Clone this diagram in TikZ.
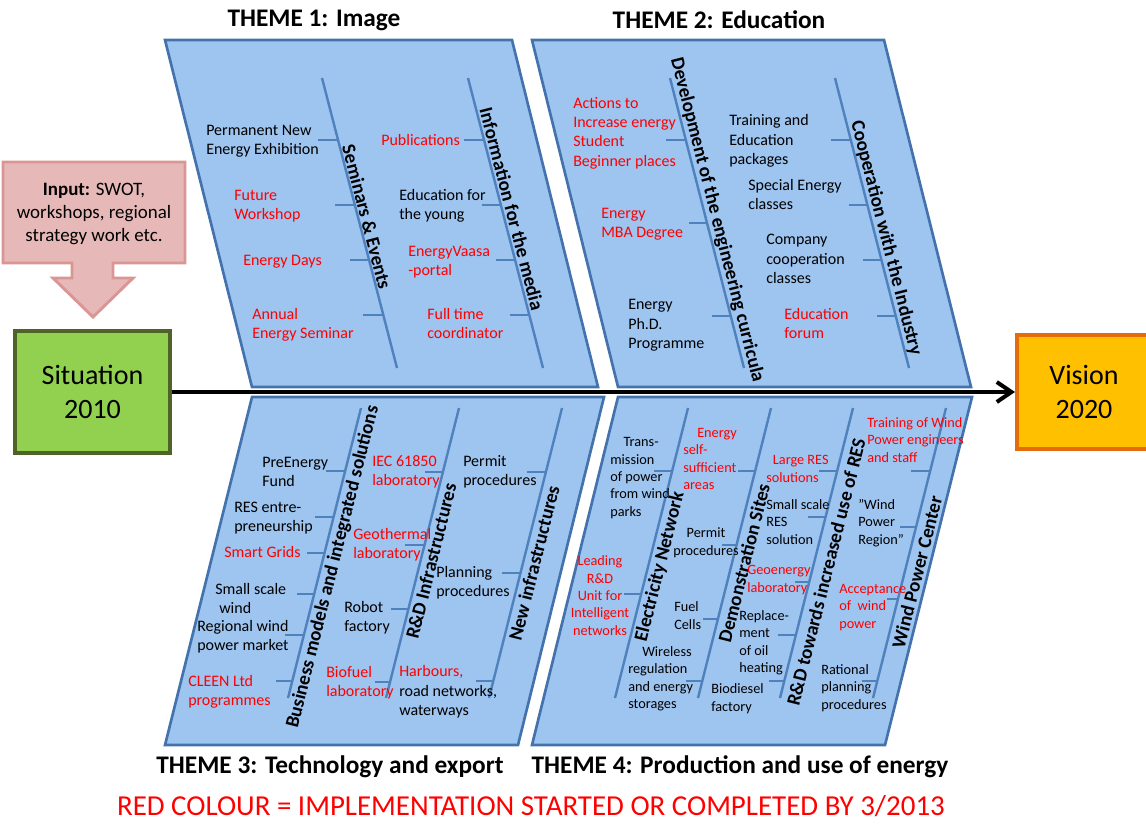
\documentclass[tikz,border=0pt]{standalone}
\usepackage{fontspec}
\setmainfont{Carlito}
\usetikzlibrary{arrows.meta}
\definecolor{panelfill}{RGB}{158,196,240}
\definecolor{panelborder}{RGB}{68,114,172}
\definecolor{bonecol}{RGB}{79,129,189}
\definecolor{sitfill}{RGB}{146,208,80}
\definecolor{sitborder}{RGB}{79,98,40}
\definecolor{visfill}{RGB}{255,192,0}
\definecolor{visborder}{RGB}{228,108,10}
\definecolor{inputfill}{RGB}{230,185,184}
\definecolor{inputborder}{RGB}{217,150,148}
\definecolor{redtxt}{RGB}{255,0,0}
\begin{document}
\begin{tikzpicture}[x=0.75pt,y=-0.75pt,
  panel/.style={fill=panelfill,draw=panelborder,line width=2pt,line join=miter},
  bone/.style={draw=bonecol,line width=1.8pt},
  twig/.style={draw=bonecol,line width=1.8pt},
  lbl/.style={font=\fontsize{12}{14.6}\selectfont,anchor=base west,align=left,inner sep=0pt},
  sml/.style={font=\fontsize{10.7}{13.1}\selectfont,anchor=base west,align=left,inner sep=0pt},
  smlc/.style={sml,anchor=base,align=center},
  rd/.style={text=redtxt},
  bonelbl/.style={font=\bfseries\fontsize{14.5}{17}\selectfont,inner sep=0pt},
  themetitle/.style={font=\bfseries\fontsize{19}{23}\selectfont,inner sep=0pt},
  bigbox/.style={font=\fontsize{21}{25}\selectfont,align=center,line width=3pt,inner sep=0pt},
  spine/.style={line width=3pt,-{Straight Barb[length=11pt,width=15pt]}}
]
\useasboundingbox (0,0) rectangle (1146,833);
\clip (0,0) rectangle (1146,833);

% ---------- panels ----------
\path[panel] (165,40) -- (512,40) -- (598,387) -- (252,387) -- cycle;
\path[panel] (532,40) -- (884,40) -- (971,387) -- (618,387) -- cycle;
\path[panel] (252,397) -- (604,397) -- (518,745) -- (165,745) -- cycle;
\path[panel] (618,397) -- (972,397) -- (885,745) -- (532,745) -- cycle;

% ---------- bones ----------
\draw[bone] (322,78) -- (397,368);
\draw[bone] (468,78) -- (543,368);
\draw[bone] (670,78) -- (744,368);
\draw[bone] (835,78) -- (909,368);
\draw[bone] (361,408) -- (288,698);
\draw[bone] (459,408) -- (386,698);
\draw[bone] (562,408) -- (489,698);
\draw[bone] (688,408) -- (615,698);
\draw[bone] (771,408) -- (698,698);
\draw[bone] (853,408) -- (780,698);
\draw[bone] (946,408) -- (873,698);

% ---------- twigs ----------
\draw[twig] (318,140) -- (338,140);
\draw[twig] (335,205) -- (354.8,205);
\draw[twig] (350,260) -- (369.1,260);
\draw[twig] (363,315) -- (383.3,315);
\draw[twig] (464,140) -- (484,140);
\draw[twig] (482,205) -- (500.8,205);
\draw[twig] (496,260) -- (515.1,260);
\draw[twig] (510,315) -- (529.3,315);

\draw[twig] (666,140) -- (685.8,140);
\draw[twig] (689,223) -- (707,223);
\draw[twig] (712,316) -- (730.7,316);
\draw[twig] (831,140) -- (850.8,140);
\draw[twig] (849,205) -- (867.4,205);
\draw[twig] (863,260) -- (881.4,260);
\draw[twig] (877,316) -- (895.7,316);

\draw[twig] (326,471) -- (345.1,471);
\draw[twig] (315,517) -- (333.6,517);
\draw[twig] (307,553) -- (324.5,553);
\draw[twig] (297,594) -- (314.2,594);
\draw[twig] (285,635) -- (303.9,635);
\draw[twig] (276,681) -- (292.3,681);
\draw[twig] (425,472) -- (442.9,472);
\draw[twig] (405,545) -- (424.5,545);
\draw[twig] (391,609) -- (408.4,609);
\draw[twig] (375,682) -- (390,682);
\draw[twig] (527,472) -- (545.9,472);
\draw[twig] (502,573) -- (520.5,573);
\draw[twig] (476,681) -- (493.3,681);

\draw[twig] (654,471) -- (672.1,471);
\draw[twig] (624,594) -- (641.2,594);
\draw[twig] (738,471) -- (755.1,471);
\draw[twig] (722,545) -- (736.5,545);
\draw[twig] (703,619) -- (717.9,619);
\draw[twig] (686,681) -- (702.3,681);
\draw[twig] (819,471) -- (837.1,471);
\draw[twig] (808,517) -- (825.6,517);
\draw[twig] (795,582) -- (809.2,582);
\draw[twig] (778,635) -- (795.9,635);
\draw[twig] (769,681) -- (784.3,681);
\draw[twig] (911,471) -- (930.1,471);
\draw[twig] (900,527) -- (916,527);
\draw[twig] (887,599) -- (897.9,599);
\draw[twig] (862,681) -- (877.3,681);

% ---------- bone labels ----------
\node[bonelbl,rotate=-75.5] (b11) at (367,217) {Seminars \& Events};
\node[bonelbl,rotate=-75.5] (b12) at (512,209) {Information for the media};
\node[bonelbl,rotate=-75.7] (b21) at (717,220) {Development of the engineering curricula};
\node[bonelbl,rotate=-75.7] (b22) at (886,238) {Cooperation with the Industry};
\node[bonelbl,rotate=75.9] (b31) at (333,567) {Business models and integrated solutions};
\node[bonelbl,rotate=75.9] (b32) at (431,561) {R\&D Infrastructures};
\node[bonelbl,rotate=75.9] (b33) at (534,563) {New infrastructures};
\node[bonelbl,rotate=75.9] (b41) at (660,567) {Electricity Network};
\node[bonelbl,rotate=75.9] (b42) at (744,563) {Demonstration Sites};
\node[bonelbl,rotate=75.9] (b43) at (826,572) {R\&D towards increased use of RES};
\node[bonelbl,rotate=75.9] (b44) at (917,572) {Wind Power Center};

% ---------- theme 1 texts (anchor = baseline of last line) ----------
\node[lbl] (t1a) at (206,154.5) {Permanent New\\Energy Exhibition};
\node[lbl,rd] (t1b) at (234,219.5) {Future\\Workshop};
\node[lbl,rd] (t1c) at (243,265) {Energy Days};
\node[lbl,rd] (t1d) at (252,338.5) {Annual\\Energy Seminar};
\node[lbl,rd] (t1e) at (381,145) {Publications};
\node[lbl] (t1f) at (399,219.5) {Education for\\the young};
\node[lbl,rd] (t1g) at (408,275.5) {EnergyVaasa\\-portal};
\node[lbl,rd] (t1h) at (427,338.5) {Full time\\coordinator};

% ---------- theme 2 texts ----------
\node[lbl,rd] (t2a) at (573,166.4) {Actions to\\Increase energy\\Student\\Beginner places};
\node[lbl,rd] (t2b) at (601,237.5) {Energy\\MBA Degree};
\node[lbl] (t2c) at (628,348.9) {Energy\\Ph.D.\\Programme};
\node[lbl] (t2d) at (729,164.9) {Training and\\Education\\packages};
\node[lbl] (t2e) at (748,209.5) {Special Energy\\classes};
\node[lbl] (t2f) at (766,283.9) {Company\\cooperation\\classes};
\node[lbl,rd] (t2g) at (784,338.5) {Education\\forum};

% ---------- theme 3 texts ----------
\node[lbl] (t3a) at (262,486.5) {PreEnergy\\Fund};
\node[lbl] (t3b) at (234,531.5) {RES entre-\\preneurship};
\node[lbl,rd] (t3c) at (224,557) {Smart Grids};
\node[lbl] (t3d) at (215,613.5) {Small scale\\\hspace*{3pt}wind};
\node[lbl] (t3e) at (197,650.5) {Regional wind\\power market};
\node[lbl,rd] (t3f) at (188,705.5) {CLEEN Ltd\\programmes};
\node[lbl,rd] (t3g) at (372,485.5) {IEC 61850\\laboratory};
\node[lbl,rd] (t3h) at (353,558.5) {Geothermal\\laboratory};
\node[lbl] (t3i) at (344,631.5) {Robot\\factory};
\node[lbl,rd] (t3j) at (326,696.5) {Biofuel\\laboratory};
\node[lbl] (t3k) at (463,485.5) {Permit\\procedures};
\node[lbl] (t3l) at (436,596.5) {Planning\\procedures};
\node[lbl] (t3m) at (399,715.9) {\textcolor{redtxt}{Harbours,}\\road networks,\\waterways};

% ---------- theme 4 texts ----------
\node[sml] (t4a) at (610,516.4) {\hspace*{10pt}Trans-\\mission\\of power\\from wind\\parks};
\node[smlc,rd] (t4b) at (600,635.4) {Leading\\R\&D\\Unit for\\Intelligent\\networks};
\node[sml,rd] (t4c) at (683,489.9) {\hspace*{10.5pt}Energy\\self-\\sufficient\\areas};
\node[smlc] (t4d) at (706,555) {Permit\\procedures};
\node[sml] (t4e) at (674,629) {Fuel\\Cells};
\node[sml] (t4f) at (628,708.9) {\hspace*{10.5pt}Wireless\\regulation\\and energy\\storages};
\node[sml,rd] (t4g) at (766,482) {\hspace*{5pt}Large RES\\solutions};
\node[sml] (t4h) at (766,544.4) {Small scale\\RES\\solution};
\node[sml,rd] (t4i) at (747,592) {Geoenergy\\laboratory};
\node[sml] (t4j) at (739,672.9) {Replace-\\ment\\of oil\\heating};
\node[sml] (t4k) at (711,711) {Biodiesel\\factory};
\node[sml,rd] (t4l) at (867,462.4) {Training of Wind\\Power engineers\\and staff};
\node[sml] (t4m) at (858,544.4) {”Wind\\Power\\Region”};
\node[sml,rd] (t4n) at (839,628.4) {Acceptance\\of\ \ wind\\power};
\node[sml] (t4o) at (821,709.4) {Rational\\planning\\procedures};

% ---------- titles ----------
\node[themetitle] (th1) at (314,20) {THEME 1: Image};
\node[themetitle] (th2) at (719,20) {THEME 2: Education};
\node[themetitle] (th3) at (330,767) {THEME 3: Technology and export};
\node[themetitle] (th4) at (740,767) {THEME 4: Production and use of energy};
\node[font=\fontsize{21.7}{25}\selectfont,text=redtxt,inner sep=0pt] (note) at (531,806) {RED COLOUR = IMPLEMENTATION STARTED OR COMPLETED BY 3/2013};

% ---------- input callout ----------
\path[fill=inputfill,draw=inputborder,line width=2.2pt,line join=miter]
  (3,162) -- (185,162) -- (185,263) -- (113,263) -- (113,278) -- (133,278)
  -- (93,317) -- (53,278) -- (72,278) -- (72,263) -- (3,263) -- cycle;
\node[font=\fontsize{14.2}{17}\selectfont,align=center,inner sep=0pt] (input) at (94,214)
  {\textbf{Input:} SWOT,\\workshops, regional\\strategy work etc.};

% ---------- situation / vision ----------
\node[bigbox,fill=sitfill,draw=sitborder,minimum width=116pt,minimum height=92pt] (sit) at (92.5,392) {Situation\\2010};
\node[bigbox,fill=visfill,draw=visborder,minimum width=100.5pt,minimum height=86pt] (vis) at (1084,392) {Vision\\2020};
\draw[spine] (sit) -- (vis);
\end{tikzpicture}
\end{document}
